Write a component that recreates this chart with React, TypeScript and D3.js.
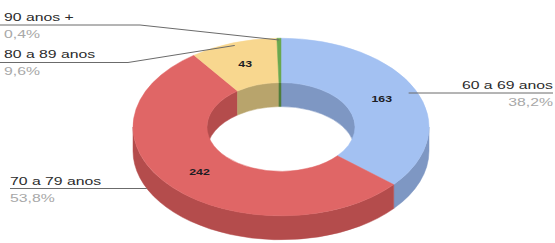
import { useEffect, useRef } from "react";
import * as d3 from "d3";

const categories = ["60 a 69 anos", "70 a 79 anos", "80 a 89 anos", "90 anos +"];
const values = [163, 242, 43, 2];
const percentLabels = ["38,2%", "53,8%", "9,6%", "0,4%"];
const topColors = ["#a3c1f2", "#e06666", "#f8d78f", "#6aa84f"];
const sideColors = ["#7e97c3", "#b44c4c", "#b8a46c", "#4f7e3b"];

const width = 555;
const height = 243;
const cx = 281;
const cy = 127;
const R = 148;
const r = 74;
const k = 0.6; // vertical squash of the tilted ring
const depth = 24;
const stretch = 1.37; // text in the picture is stretched sideways

export default function App() {
  const svgRef = useRef<SVGSVGElement | null>(null);

  useEffect(() => {
    if (!svgRef.current) return;
    const svg = d3.select(svgRef.current);
    svg.selectAll("*").remove();

    const pie = d3.pie<number>().sort(null).startAngle(0).endAngle(2 * Math.PI);
    const slices = pie(values);
    const du = depth / k;

    const ring = svg.append("g").attr("transform", `translate(${cx},${cy}) scale(1,${k})`);

    const wall = (radius: number, s: number, e: number) => {
      const p = d3.path();
      p.moveTo(radius * Math.sin(s), -radius * Math.cos(s));
      p.arc(0, 0, radius, s - Math.PI / 2, e - Math.PI / 2, false);
      p.lineTo(radius * Math.sin(e), -radius * Math.cos(e) + du);
      p.arc(0, du, radius, e - Math.PI / 2, s - Math.PI / 2, true);
      p.closePath();
      return p.toString();
    };

    // inner wall, far half of the hole
    const backRanges: [number, number][] = [
      [0, Math.PI / 2],
      [(3 * Math.PI) / 2, 2 * Math.PI]
    ];
    slices.forEach((sl, i) => {
      backRanges.forEach(([lo, hi]) => {
        const s = Math.max(sl.startAngle, lo);
        const e = Math.min(sl.endAngle, hi);
        if (s < e) {
          ring
            .append("path")
            .attr("d", wall(r, s, e))
            .attr("fill", sideColors[i])
            .attr("stroke", sideColors[i])
            .attr("stroke-width", 0.5)
            .attr("vector-effect", "non-scaling-stroke");
        }
      });
    });

    // outer wall, near half
    slices.forEach((sl, i) => {
      const s = Math.max(sl.startAngle, Math.PI / 2);
      const e = Math.min(sl.endAngle, (3 * Math.PI) / 2);
      if (s < e) {
        ring
          .append("path")
          .attr("d", wall(R, s, e))
          .attr("fill", sideColors[i])
          .attr("stroke", sideColors[i])
          .attr("stroke-width", 0.5)
          .attr("vector-effect", "non-scaling-stroke");
      }
    });

    const arc = d3.arc<d3.PieArcDatum<number>>().innerRadius(r).outerRadius(R);
    ring
      .selectAll("path.top")
      .data(slices)
      .join("path")
      .attr("class", "top")
      .attr("d", arc)
      .attr("fill", (_, i) => topColors[i])
      .attr("stroke", (_, i) => topColors[i])
      .attr("stroke-width", 0.5)
      .attr("vector-effect", "non-scaling-stroke");

    const toScreen = (a: number, rad: number, dy = 0): [number, number] => [
      cx + rad * Math.sin(a),
      cy + (-rad * Math.cos(a)) * k + dy
    ];
    const mid = (i: number) => (slices[i].startAngle + slices[i].endAngle) / 2;

    // values on slices
    slices.forEach((sl, i) => {
      if (sl.value < 10) return;
      const c = arc.centroid(sl);
      svg
        .append("text")
        .attr("transform", `translate(${cx + c[0]},${cy + c[1] * k + 3}) scale(${stretch},1)`)
        .attr("text-anchor", "middle")
        .attr("font-family", "Liberation Sans, Arial, sans-serif")
        .attr("font-size", 9)
        .attr("font-weight", 700)
        .attr("fill", "#1d1d24")
        .text(sl.value);
    });

    // leader lines
    const lineY = [93, 188.5, 62.5, 25];
    const leaders: string[] = [];
    {
      const [x0] = toScreen(mid(0), R * 0.95);
      leaders.push(`M${width - 2},${lineY[0]}H${x0}`);
      const yy = lineY[1] - cy - depth;
      const xEdge = cx - R * Math.sqrt(Math.max(0, 1 - (yy / (R * k)) ** 2));
      leaders.push(`M10,${lineY[1]}H${xEdge}`);
      const [x2, y2] = toScreen(mid(2), R * 0.97);
      leaders.push(`M0,${lineY[2]}H128L${x2},${y2}`);
      const [x3, y3] = toScreen(mid(3), R * 0.98);
      leaders.push(`M0,${lineY[3]}H140L${x3},${y3}`);
    }
    svg
      .append("g")
      .selectAll("path")
      .data(leaders)
      .join("path")
      .attr("d", (d) => d)
      .attr("fill", "none")
      .attr("stroke", "#6b6b6b")
      .attr("stroke-width", 1);

    const labelPos: { x: number; y: number; anchor: string }[] = [
      { x: 553, y: 89, anchor: "end" },
      { x: 10, y: 185, anchor: "start" },
      { x: 4, y: 58, anchor: "start" },
      { x: 4, y: 21, anchor: "start" }
    ];
    categories.forEach((name, i) => {
      const pos = labelPos[i];
      const g = svg.append("g").attr("font-family", "Liberation Sans, Arial, sans-serif");
      g.append("text")
        .attr("transform", `translate(${pos.x},${pos.y}) scale(${stretch},1)`)
        .attr("text-anchor", pos.anchor)
        .attr("font-size", 11.5)
        .attr("fill", "#2b2b2b")
        .text(name);
      g.append("text")
        .attr("transform", `translate(${pos.x},${pos.y + 17}) scale(${stretch},1)`)
        .attr("text-anchor", pos.anchor)
        .attr("font-size", 11.5)
        .attr("fill", "#a8a8a8")
        .text(percentLabels[i]);
    });
  }, []);

  return (
    <svg
      ref={svgRef}
      width={width}
      height={height}
      style={{ position: "absolute", left: 0, top: 0, background: "#fff" }}
    />
  );
}
